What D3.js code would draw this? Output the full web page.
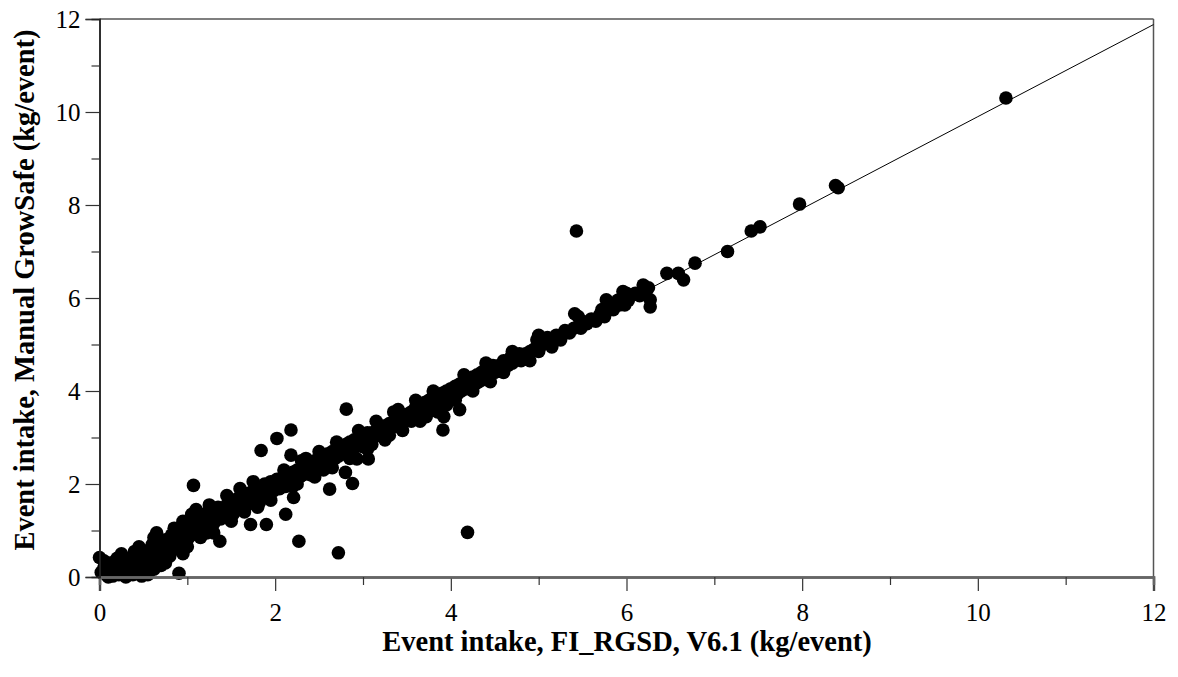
<!DOCTYPE html>
<html><head><meta charset="utf-8">
<script src="https://cdn.jsdelivr.net/npm/d3@7"></script>
<style>body{margin:0;background:#fff}svg{display:block}</style>
</head><body>
<svg id="c" width="1178" height="677"></svg>
<script>
const xTicks = [0, 2, 4, 6, 8, 10, 12];
const yTicks = [0, 2, 4, 6, 8, 10, 12];
const minorTicks = [1, 3, 5, 7, 9, 11];
const xTitle = "Event intake, FI_RGSD, V6.1 (kg/event)";
const yTitle = "Event intake, Manual GrowSafe (kg/event)";

// Fitted line (x, y)
const fitLine = [[0,0.0],[2,1.98],[4,3.96],[6,5.94],[8,7.92],[10,9.9],[12,11.88]];

// Observations: FI_RGSD (x) vs Manual GrowSafe (y)
const pointsLow = [
[0,0.42],[0.02,0.1],[0.05,0.2],[0.08,0.05],[0.1,0.15],[0.12,0.3],[0.15,0.02],[0.18,0.12],[0.2,0.25],[0.22,0.05],
[0.25,0.18],[0.28,0.35],[0.3,0.1],[0.32,0.22],[0.35,0.4],[0.38,0.05],[0.4,0.3],[0.42,0.18],[0.45,0.45],[0.48,0.02],
[0.5,0.35],[0.52,0.5],[0.55,0.25],[0.58,0.6],[0.6,0.4],[0.62,0.17],[0.65,0.55],[0.68,0.7],[0.7,0.45],[0.72,0.62],
[0.75,0.8],[0.78,0.5],[0.8,0.72],[0.82,0.9],[0.85,0.65],[0.88,0.85],[0.9,0.6],[0.905,0.08],[0.95,0.95],[0.98,0.75],
[1.0,0.65],[1.0,1.0],[1.03,0.88],[1.05,1.1],[1.07,1.97],[1.08,0.95],[1.1,1.2],[1.12,1.0],[1.15,1.25],[1.18,1.1],
[1.2,1.35],[1.22,0.95],[1.25,1.2],[1.28,1.4],[1.3,1.15],[1.32,1.3],[1.35,1.5],[1.37,0.77],[1.38,1.25],[1.4,1.45],
[1.42,1.3],[1.45,1.55],[1.48,1.4],[1.5,1.6],[1.52,1.35],[1.55,1.5],[1.58,1.7],[1.6,1.5],[1.62,1.65],[1.65,1.75],
[1.68,1.55],[1.7,1.8],[1.72,1.13],[1.72,1.65],[1.75,1.85],[1.78,1.7],[1.8,1.9],[1.82,1.6],[1.84,2.72],[1.85,1.85],
[1.88,2.0],[1.9,1.13],[1.9,1.8],[1.92,1.95],[1.95,2.05],[1.98,1.85],[2.0,2.0],[0.1,0.0],[0.3,0.0],[0.55,0.05],
[0.2,0.4],[0.4,0.55],[0.6,0.7],[0.15,0.3],[0.05,0.35],[0.7,0.25],[0.8,0.45],[0.5,0.15],[0.35,0.2],[1.0,0.8],
[0.25,0.5],[0.45,0.65],[0.62,0.85],[0.85,1.05],[0.95,1.2],[1.1,1.45],[1.25,1.55],[1.45,1.75],[1.6,1.9],[1.75,2.05],
[0.75,0.3],[0.95,0.5],[1.15,0.85],[1.3,0.95],[1.5,1.2],[1.65,1.4],[1.8,1.5],[1.95,1.65],[0.65,0.95],[1.05,1.35]
];
const pointsMid = [
[2.02,2.98],[2.02,2.1],[2.05,1.9],[2.08,2.05],[2.1,2.15],[2.12,1.35],[2.12,1.95],[2.15,2.2],[2.18,3.16],[2.18,2.62],
[2.18,2.05],[2.2,2.25],[2.21,1.71],[2.22,2.1],[2.25,2.3],[2.27,0.77],[2.28,2.15],[2.3,2.35],[2.32,2.2],[2.35,2.4],
[2.38,2.25],[2.4,2.45],[2.42,2.3],[2.45,2.5],[2.48,2.35],[2.5,2.55],[2.52,2.4],[2.55,2.6],[2.58,2.45],[2.6,2.65],
[2.62,1.89],[2.62,2.5],[2.65,2.7],[2.68,2.55],[2.7,2.75],[2.72,0.52],[2.72,2.6],[2.75,2.8],[2.78,2.65],[2.8,2.25],
[2.8,2.85],[2.81,3.61],[2.82,2.7],[2.85,2.9],[2.88,2.01],[2.88,2.75],[2.9,2.95],[2.92,2.8],[2.93,2.54],[2.95,3.0],
[2.98,2.85],[3.0,3.05],[3.02,2.9],[3.05,3.1],[3.06,2.54],[3.08,2.95],[3.1,3.1],[3.12,3.0],[3.15,3.15],[3.18,3.05],
[3.2,3.2],[3.22,3.1],[3.25,3.25],[3.28,3.15],[3.3,3.3],[3.32,3.2],[3.35,3.35],[3.38,3.25],[3.4,3.6],[3.42,3.3],
[3.45,3.45],[3.48,3.35],[3.5,3.5],[3.52,3.4],[3.55,3.55],[3.58,3.45],[3.6,3.65],[3.62,3.5],[3.65,3.7],[3.68,3.55],
[3.7,3.75],[3.72,3.45],[3.75,3.8],[3.78,3.65],[3.8,3.85],[3.82,3.7],[3.85,3.9],[3.88,3.75],[3.9,3.95],[3.91,3.16],
[3.92,3.45],[3.95,4.0],[3.98,3.85],[2.4,2.2],[2.6,2.4],[2.3,2.5],[3.3,3.05],[3.0,2.8],[2.55,2.3],[3.55,3.35],
[2.1,2.3],[2.35,2.55],[2.5,2.7],[2.7,2.9],[2.95,3.15],[3.15,3.35],[3.35,3.55],[3.6,3.8],[3.8,4.0],[2.25,2.0],
[2.45,2.15],[2.65,2.35],[2.85,2.55],[3.05,2.75],[3.25,2.95],[3.45,3.15],[3.65,3.35],[3.85,3.55],[2.2,1.95],[3.1,2.85]
];
const pointsHigh = [
[4.0,4.05],[4.02,3.9],[4.05,4.1],[4.08,3.95],[4.1,3.6],[4.1,4.15],[4.12,4.0],[4.15,4.2],[4.18,4.05],[4.19,0.96],
[4.2,4.25],[4.22,4.1],[4.25,4.3],[4.28,4.15],[4.3,4.35],[4.32,4.2],[4.35,4.4],[4.38,4.25],[4.4,4.45],[4.45,4.35],
[4.48,4.55],[4.5,4.4],[4.55,4.55],[4.58,4.45],[4.6,4.65],[4.65,4.55],[4.68,4.72],[4.7,4.6],[4.75,4.7],[4.78,4.8],
[4.8,4.65],[4.85,4.8],[4.88,4.7],[4.9,4.85],[4.95,4.9],[4.98,5.1],[5.0,4.85],[5.05,5.0],[5.1,5.15],[5.15,4.95],
[5.16,5.05],[5.2,5.2],[5.25,5.1],[5.3,5.3],[5.35,5.25],[5.4,5.35],[5.41,5.66],[5.43,7.44],[5.45,5.6],[5.48,5.35],
[5.5,5.5],[5.55,5.45],[5.6,5.55],[5.65,5.5],[5.7,5.65],[5.72,5.75],[5.75,5.6],[5.77,5.96],[5.8,5.8],[5.85,5.75],
[5.9,5.95],[5.92,5.85],[5.96,6.14],[5.98,5.85],[6.0,6.1],[6.02,5.95],[6.05,6.05],[6.1,6.1],[6.15,6.05],[6.19,6.28],
[6.22,6.12],[6.25,6.22],[6.27,5.96],[6.27,5.81],[6.46,6.53],[6.59,6.53],[6.65,6.39],[6.78,6.75],[7.15,7.0],[7.42,7.44],
[7.52,7.53],[7.97,8.02],[8.38,8.42],[8.41,8.37],[10.32,10.3],
[4.05,3.8],[4.25,4.0],[4.45,4.2],[4.6,4.4],[4.9,4.65],[4.15,4.35],[4.4,4.6],[4.7,4.85],[5.0,5.2],[3.95,3.7]
];
const points = pointsLow.concat(pointsMid, pointsHigh);

const svg = d3.select("#c");
const x = d3.scaleLinear().domain([0, 12]).range([99.5, 1153.5]);
const y = d3.scaleLinear().domain([0, 12]).range([577, 19]);
const serif = "'Liberation Serif', 'Times New Roman', serif";

// frame top/right
svg.append("line").attr("x1", x(0)).attr("x2", x(12)).attr("y1", y(12)).attr("y2", y(12))
  .attr("stroke", "#555").attr("stroke-width", 1.5);
svg.append("line").attr("x1", x(12)).attr("x2", x(12)).attr("y1", y(12)).attr("y2", y(0))
  .attr("stroke", "#555").attr("stroke-width", 1.5);

// points
svg.append("g").selectAll("circle").data(points).join("circle")
  .attr("cx", d => x(d[0])).attr("cy", d => y(d[1])).attr("r", 6.8).attr("fill", "#000");

// fit line
svg.append("path").datum(fitLine)
  .attr("d", d3.line().x(d => x(d[0])).y(d => y(d[1])))
  .attr("fill", "none").attr("stroke", "#000").attr("stroke-width", 1);

// x axis
const gx = svg.append("g").attr("transform", `translate(0,${y(0)})`);
gx.call(d3.axisBottom(x).tickValues(xTicks).tickSize(14).tickPadding(12).tickFormat(d3.format("d")));
gx.append("g").call(d3.axisBottom(x).tickValues(minorTicks).tickSize(8).tickFormat(""));
gx.selectAll(".domain").attr("stroke", "#666").attr("stroke-width", 2.5);
gx.selectAll(".tick line").attr("stroke", "#333").attr("stroke-width", 1.2);
gx.selectAll("text").attr("font-family", serif).attr("font-size", 25).attr("fill", "#000");

// y axis
const gy = svg.append("g").attr("transform", `translate(${x(0)},0)`);
gy.call(d3.axisLeft(y).tickValues(yTicks).tickSize(14).tickPadding(5).tickFormat(d3.format("d")));
gy.append("g").call(d3.axisLeft(y).tickValues(minorTicks).tickSize(8).tickFormat(""));
gy.selectAll(".domain").attr("stroke", "#222").attr("stroke-width", 1.5);
gy.selectAll(".tick line").attr("stroke", "#333").attr("stroke-width", 1.2);
gy.selectAll("text").attr("font-family", serif).attr("font-size", 25).attr("fill", "#000");

// titles
svg.append("text").attr("x", 627).attr("y", 651).attr("text-anchor", "middle")
  .attr("font-family", serif).attr("font-weight", "bold").attr("font-size", 28.5).text(xTitle);
svg.append("text").attr("transform", "translate(34,290) rotate(-90)").attr("text-anchor", "middle")
  .attr("font-family", serif).attr("font-weight", "bold").attr("font-size", 28.5).text(yTitle);
</script>
</body></html>
